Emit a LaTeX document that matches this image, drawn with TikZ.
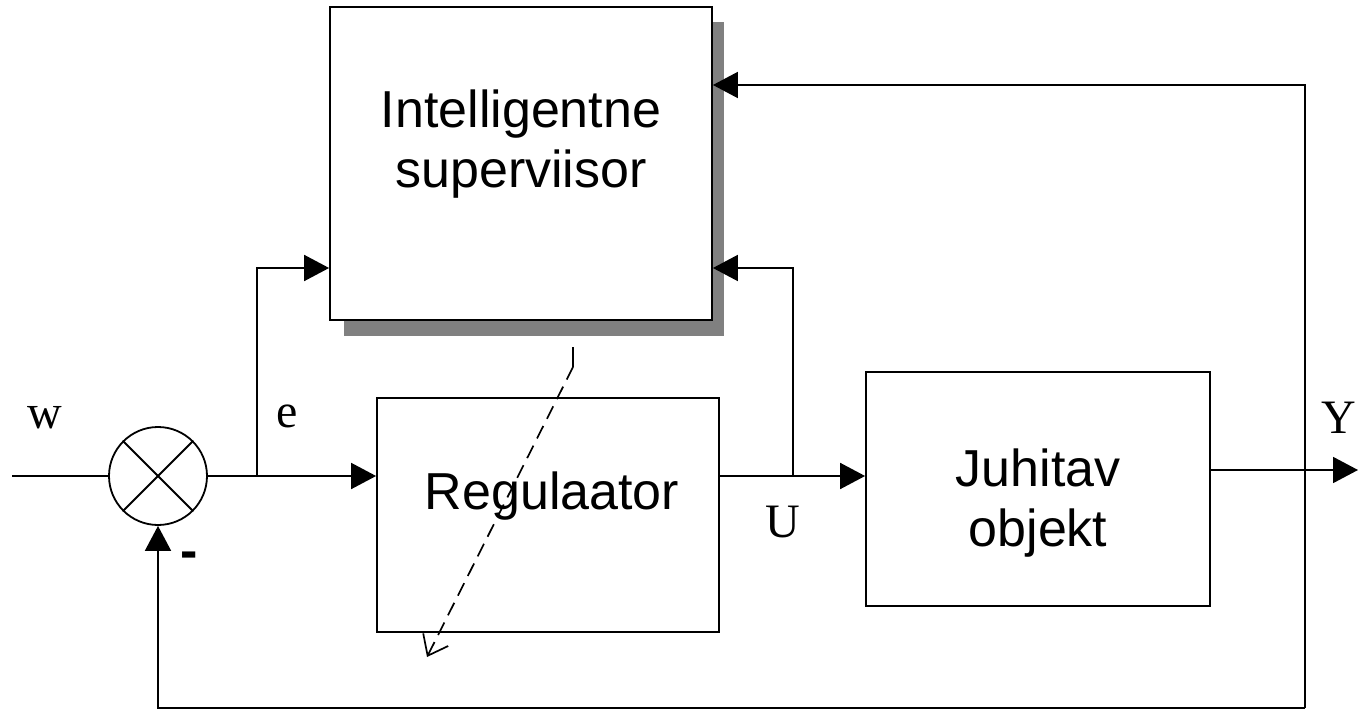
\documentclass[tikz,border=0pt]{standalone}
\usepackage{fontspec}
\setmainfont{Liberation Serif}
\newfontfamily\arial{Liberation Sans}
\usetikzlibrary{arrows.meta,calc}
\definecolor{shadowgray}{RGB}{128,128,128}
\tikzset{
  box/.style={draw=black, line width=1.8pt, fill=white, rectangle, inner sep=0pt},
  conn/.style={line width=1.9pt},
  arr/.style={conn, -{Triangle[length=25pt,width=26pt]}},
  dasharr/.style={line width=1.7pt, dash pattern=on 14pt off 8pt, -{Straight Barb[length=18pt,width=28pt,line width=1.7pt]}},
  sanstext/.style={font=\arial\fontsize{52}{60}\selectfont, align=center, inner sep=0pt},
  sertext/.style={font=\fontsize{48}{56}\selectfont, inner sep=0pt},
}
\begin{document}
\begin{tikzpicture}[x=1pt,y=-1pt]
\useasboundingbox (0,0) rectangle (1359,711);
% supervisor with shadow
\fill[shadowgray] (344,22) rectangle (724,336);
\node[box, minimum width=382pt, minimum height=313pt] (sup) at (521,163.5) {};
\node[sanstext] (suptext) at (521,144) {Intelligentne\\superviisor};
% regulator
\node[box, minimum width=342pt, minimum height=234pt] (reg) at (548,515) {};
\node[sanstext] (regtext) at (552,496) {Regulaator};
% plant
\node[box, minimum width=344pt, minimum height=234pt] (obj) at (1038,489) {};
\node[sanstext] (objtext) at (1038,503) {Juhitav\\objekt};
% summing junction
\node[draw, circle, line width=1.8pt, minimum size=98pt, inner sep=0pt] (sum) at (158,476) {};
\draw[line width=1.8pt] (sum.north west) -- (sum.south east);
\draw[line width=1.8pt] (sum.north east) -- (sum.south west);
% coordinates
\coordinate (in) at (12,476);
\coordinate (b1) at (257,476);
\coordinate (b2) at (793,476);
\coordinate (c1) at (1305,470);
\coordinate (c2) at (1305,708);
\coordinate (out) at (1358,470);
\coordinate (d0) at (573,347);
\coordinate (d1) at (573,367);
\coordinate (d2) at (427,657);
% connectors
\draw[conn] (in) -- (sum.west);
\draw[arr] (sum.east) -- (sum -| reg.west);
\draw[arr] (b1) |- (sup.west |- 0,268);
\draw[arr] (reg.east |- sum) -- (obj.west |- sum);
\draw[arr] (b2) |- (sup.east |- 0,268);
\draw[arr] (obj.east |- c1) -- (out);
\draw[conn] (c1) -- (c2);
\draw[arr] (c1) |- (sup.east |- 0,85);
\draw[arr] (c2) -| (sum.south);
\draw[line width=1.7pt] (d0) -- (d1);
\draw[dasharr] (d1) -- (d2);
% labels
\node[sertext] (lw) at (45,418) {w};
\node[sertext] (le) at (287,416) {e};
\node[sertext] (lu) at (783,522) {U};
\node[sertext] (ly) at (1339,418) {Y};
\node[font=\arial\bfseries\fontsize{52}{60}\selectfont, inner sep=0pt] (lminus) at (189,560) {-};
\end{tikzpicture}
\end{document}
